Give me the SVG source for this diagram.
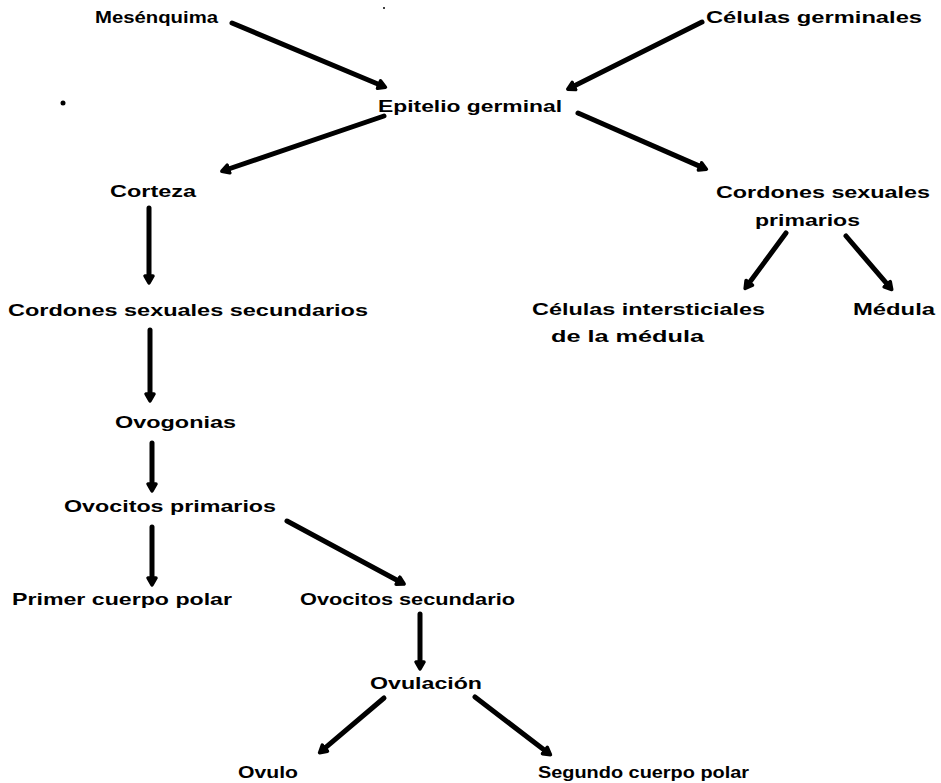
<svg xmlns="http://www.w3.org/2000/svg" width="941" height="783" viewBox="0 0 941 783">
<style>
text{font-family:"Liberation Sans",Arial,sans-serif;font-weight:bold;font-size:17px;fill:#000;}
.c line{stroke:#000;stroke-width:5;stroke-linecap:round;marker-end:url(#ah);}
</style>
<defs>
<marker id="ah" markerUnits="userSpaceOnUse" viewBox="-2 -7 14 14" refX="0" refY="0" markerWidth="14" markerHeight="14" orient="auto">
<path d="M0,-4 L7,0 L0,4 Z" fill="#000" stroke="#000" stroke-width="3.5" stroke-linejoin="round"/>
</marker>
</defs>
<rect width="941" height="783" fill="#fff"/>
<g id="n-mesenquima"><text x="95" y="23" textLength="123" lengthAdjust="spacingAndGlyphs">Mesénquima</text></g>
<g id="n-celulas-germinales"><text x="706" y="23" textLength="216" lengthAdjust="spacingAndGlyphs">Células germinales</text></g>
<g id="n-epitelio"><text x="378" y="112" textLength="184" lengthAdjust="spacingAndGlyphs">Epitelio germinal</text></g>
<g id="n-corteza"><text x="110" y="197" textLength="86" lengthAdjust="spacingAndGlyphs">Corteza</text></g>
<g id="n-cordones-primarios"><text x="716" y="198" textLength="214" lengthAdjust="spacingAndGlyphs">Cordones sexuales</text><text x="755" y="226" textLength="105" lengthAdjust="spacingAndGlyphs">primarios</text></g>
<g id="n-cordones-secundarios"><text x="8" y="316" textLength="360" lengthAdjust="spacingAndGlyphs">Cordones sexuales secundarios</text></g>
<g id="n-intersticiales"><text x="532" y="315" textLength="233" lengthAdjust="spacingAndGlyphs">Células intersticiales</text><text x="551" y="342" textLength="153" lengthAdjust="spacingAndGlyphs">de la médula</text></g>
<g id="n-medula"><text x="853" y="315" textLength="82" lengthAdjust="spacingAndGlyphs">Médula</text></g>
<g id="n-ovogonias"><text x="115" y="428" textLength="121" lengthAdjust="spacingAndGlyphs">Ovogonias</text></g>
<g id="n-ovocitos-primarios"><text x="64" y="512" textLength="212" lengthAdjust="spacingAndGlyphs">Ovocitos primarios</text></g>
<g id="n-primer-cuerpo"><text x="12" y="605" textLength="220" lengthAdjust="spacingAndGlyphs">Primer cuerpo polar</text></g>
<g id="n-ovocitos-secundario"><text x="300" y="605" textLength="215" lengthAdjust="spacingAndGlyphs">Ovocitos secundario</text></g>
<g id="n-ovulacion"><text x="370" y="689" textLength="112" lengthAdjust="spacingAndGlyphs">Ovulación</text></g>
<g id="n-ovulo"><text x="238" y="778" textLength="60" lengthAdjust="spacingAndGlyphs">Ovulo</text></g>
<g id="n-segundo-cuerpo"><text x="538" y="778" textLength="211" lengthAdjust="spacingAndGlyphs">Segundo cuerpo polar</text></g>
<g id="connectors" class="c">
<line x1="232" y1="23" x2="379" y2="84.5"/>
<line x1="702" y1="22" x2="574" y2="86"/>
<line x1="384" y1="116" x2="228.5" y2="169"/>
<line x1="578" y1="113" x2="700" y2="166.4"/>
<line x1="149" y1="208" x2="149" y2="276"/>
<line x1="150" y1="330" x2="150" y2="394"/>
<line x1="152" y1="443" x2="152" y2="484"/>
<line x1="152" y1="527" x2="152" y2="578"/>
<line x1="287" y1="521" x2="398" y2="580.7"/>
<line x1="420" y1="614" x2="420" y2="662"/>
<line x1="384" y1="698" x2="324.9" y2="748.2"/>
<line x1="475" y1="697" x2="544.9" y2="750.5"/>
<line x1="786" y1="233" x2="749.3" y2="282.8"/>
<line x1="846" y1="236" x2="887.2" y2="284.2"/>
</g>
<circle cx="63" cy="103" r="2.5" fill="#000"/>
<circle cx="384" cy="8" r="1" fill="#000"/>
</svg>
